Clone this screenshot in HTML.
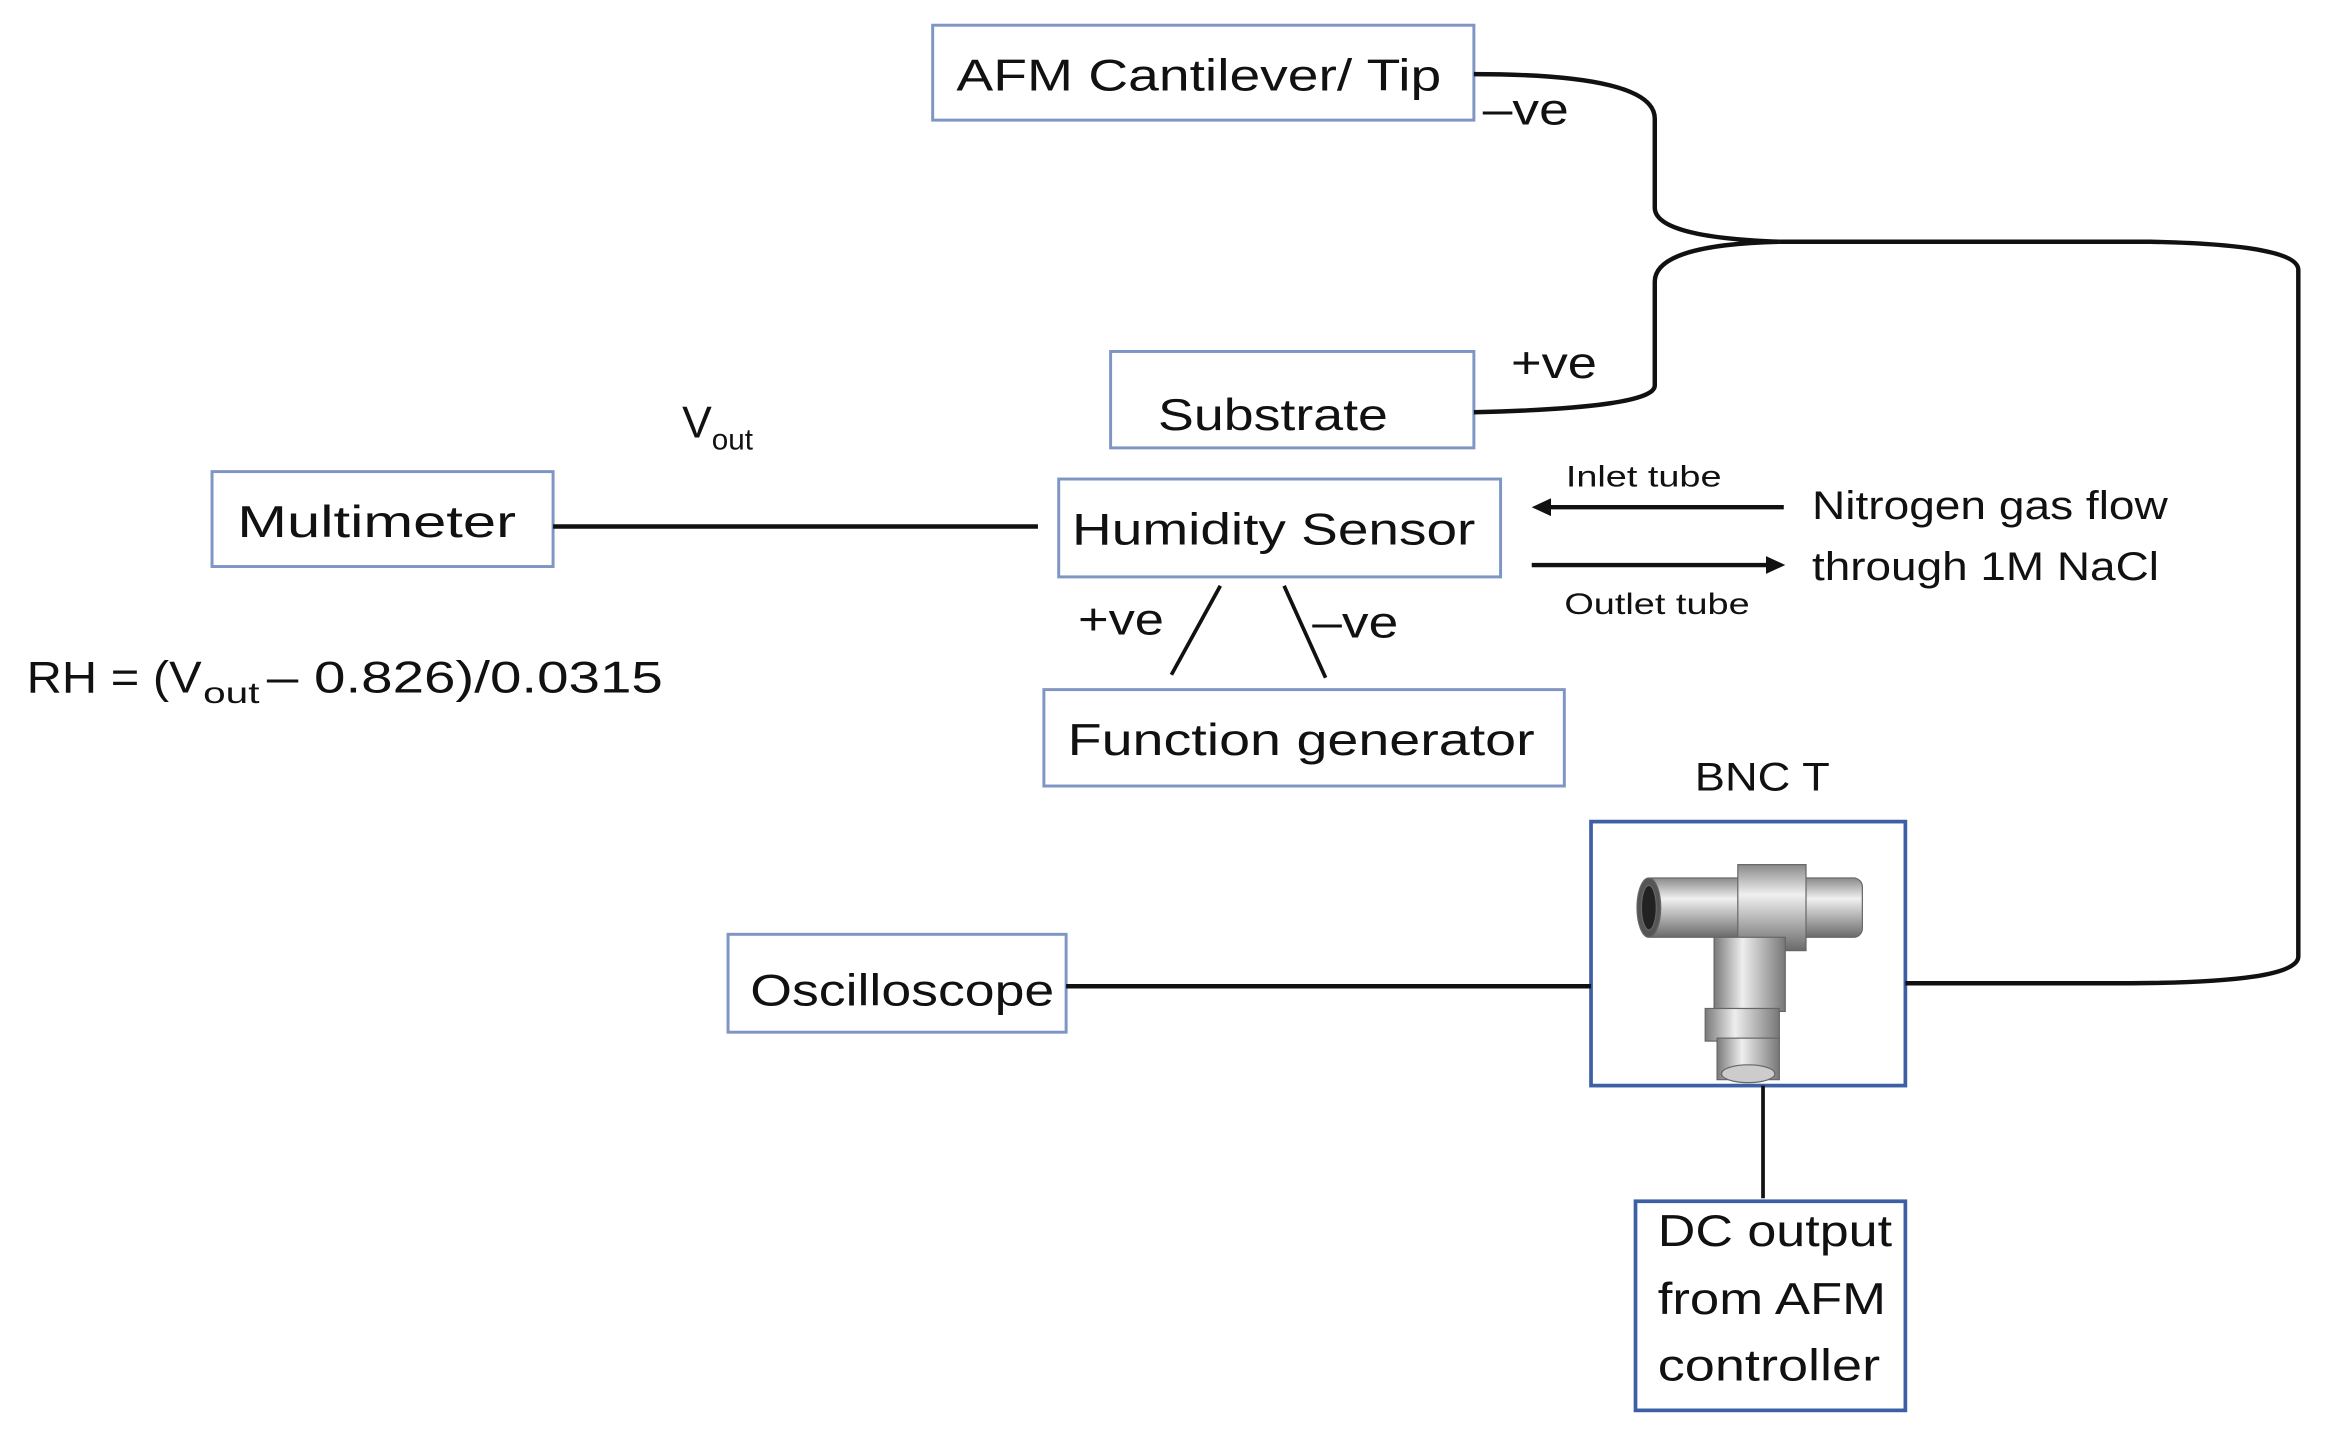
<!DOCTYPE html>
<html><head><meta charset="utf-8"><style>html,body{margin:0;padding:0;background:#fff}svg{display:block}</style></head>
<body>
<svg width="2325" height="1443" viewBox="0 0 1568 973" preserveAspectRatio="none" xmlns="http://www.w3.org/2000/svg" font-family="'Liberation Sans', sans-serif" fill="#111">
<defs>
<linearGradient id="mg" x1="0" y1="0" x2="0" y2="1"><stop offset="0" stop-color="#8a8a8a"/><stop offset="0.35" stop-color="#f0f0f0"/><stop offset="0.7" stop-color="#a8a8a8"/><stop offset="1" stop-color="#6a6a6a"/></linearGradient>
<linearGradient id="mh" x1="0" y1="0" x2="1" y2="0"><stop offset="0" stop-color="#7a7a7a"/><stop offset="0.4" stop-color="#eeeeee"/><stop offset="1" stop-color="#777"/></linearGradient>
</defs>
<g fill="none" stroke="#7f96c4" stroke-width="2">
<rect x="629" y="17" width="365" height="64"/>
<rect x="749" y="237" width="245" height="65"/>
<rect x="143" y="318" width="230" height="64"/>
<rect x="714" y="323" width="298" height="66"/>
<rect x="704" y="465" width="351" height="65"/>
<rect x="491" y="630" width="228" height="66"/>
</g>
<g fill="none" stroke="#3c5fa6" stroke-width="2.5">
<rect x="1073" y="554" width="212" height="178"/>
<rect x="1103" y="810" width="182" height="141"/>
</g>
<g fill="none" stroke="#111" stroke-width="3">
<line x1="373" y1="355" x2="700" y2="355"/>
<line x1="719" y1="665" x2="1073" y2="665"/>
<path d="M1285 663 L1430 663 Q1550 663 1550 645 L1550 182 Q1550 165 1450 163 L1200 163"/>
<path d="M994 50 Q1116 50 1116 80 L1116 140 Q1116 160 1200 163"/>
<path d="M994 278 Q1116 275 1116 260 L1116 190 Q1116 165 1200 163"/>
<line x1="1189" y1="732" x2="1189" y2="808" stroke-width="2.5"/>
<line x1="823" y1="395" x2="790" y2="455" stroke-width="2.5"/>
<line x1="866" y1="395" x2="894" y2="457" stroke-width="2.5"/>
<line x1="1203" y1="342" x2="1042" y2="342" stroke-width="3"/>
<line x1="1033" y1="381" x2="1192" y2="381" stroke-width="3"/>
</g>
<polygon points="1033,342 1046,336 1046,348"/>
<polygon points="1204,381 1191,375 1191,387"/>
<g stroke="#666" stroke-width="0.8">
<rect x="1108" y="592" width="148" height="40" rx="6" fill="url(#mg)"/>
<ellipse cx="1112" cy="612" rx="8" ry="20" fill="#555"/>
<ellipse cx="1112" cy="612" rx="5" ry="15" fill="#222"/>
<rect x="1172" y="583" width="46" height="58" fill="url(#mg)"/>
<rect x="1156" y="632" width="48" height="50" fill="url(#mh)"/>
<rect x="1150" y="680" width="50" height="22" fill="url(#mh)"/>
<rect x="1158" y="700" width="42" height="28" fill="url(#mh)"/>
<ellipse cx="1179" cy="724" rx="18" ry="6" fill="#ccc"/>
</g>
<g font-size="30">
<text x="645" y="61" textLength="327" lengthAdjust="spacingAndGlyphs">AFM Cantilever/ Tip</text>
<text x="781" y="290" textLength="155" lengthAdjust="spacingAndGlyphs">Substrate</text>
<text x="160" y="362" textLength="188" lengthAdjust="spacingAndGlyphs">Multimeter</text>
<text x="723" y="367" textLength="272" lengthAdjust="spacingAndGlyphs">Humidity Sensor</text>
<text x="720" y="509" textLength="315" lengthAdjust="spacingAndGlyphs">Function generator</text>
<text x="506" y="678" textLength="205" lengthAdjust="spacingAndGlyphs">Oscilloscope</text>
<text x="1118" y="840" textLength="158" lengthAdjust="spacingAndGlyphs">DC output</text>
<text x="1118" y="886" textLength="154" lengthAdjust="spacingAndGlyphs">from AFM</text>
<text x="1118" y="931" textLength="150" lengthAdjust="spacingAndGlyphs">controller</text>
<text x="1000" y="84" textLength="58" lengthAdjust="spacingAndGlyphs">–ve</text>
<text x="1019" y="255" textLength="58" lengthAdjust="spacingAndGlyphs">+ve</text>
<text x="727" y="428" textLength="58" lengthAdjust="spacingAndGlyphs">+ve</text>
<text x="885" y="430" textLength="58" lengthAdjust="spacingAndGlyphs">–ve</text>
<text x="460" y="295">V<tspan font-size="20" dy="8">out</tspan></text>
<text x="18" y="467" textLength="118" lengthAdjust="spacingAndGlyphs">RH = (V</text>
<text x="137" y="474" font-size="20" textLength="38" lengthAdjust="spacingAndGlyphs">out</text>
<text x="180" y="467" textLength="267" lengthAdjust="spacingAndGlyphs">– 0.826)/0.0315</text>
</g>
<g font-size="27">
<text x="1222" y="350" textLength="240" lengthAdjust="spacingAndGlyphs">Nitrogen gas flow</text>
<text x="1222" y="391" textLength="234" lengthAdjust="spacingAndGlyphs">through 1M NaCl</text>
<text x="1143" y="533" textLength="91" lengthAdjust="spacingAndGlyphs">BNC T</text>
</g>
<g font-size="20">
<text x="1056" y="328" textLength="105" lengthAdjust="spacingAndGlyphs">Inlet tube</text>
<text x="1055" y="414" textLength="125" lengthAdjust="spacingAndGlyphs">Outlet tube</text>
</g>
</svg>
</body></html>
